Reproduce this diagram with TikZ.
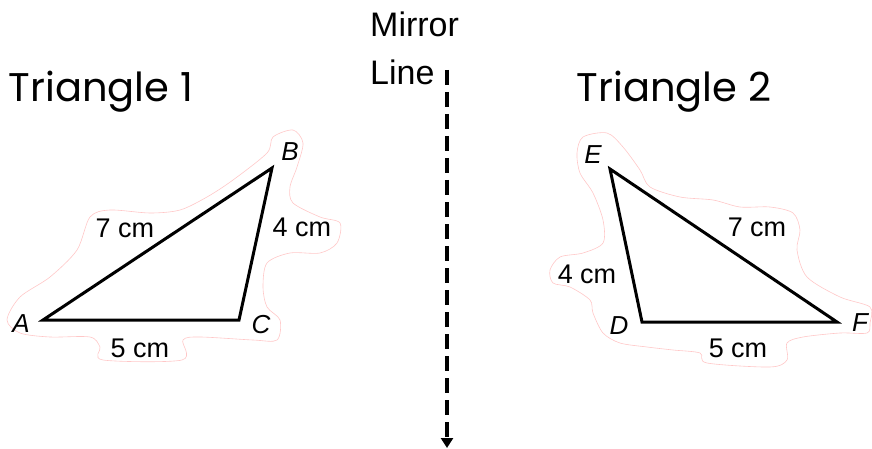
\documentclass[tikz,border=0pt]{standalone}
\usepackage{fontspec}
\setmainfont{Liberation Sans}
\newfontfamily\titlefont{Poppins}
\usetikzlibrary{arrows.meta}

\begin{document}
\begin{tikzpicture}[
  x=1pt, y=-1pt,
  title/.style={font=\titlefont\fontsize{40}{44}\selectfont, inner sep=0pt},
  vlab/.style={font=\fontsize{26}{30}\selectfont\itshape, inner sep=0pt},
  len/.style={font=\fontsize{27}{31}\selectfont, inner sep=0pt},
  tri/.style={line width=3pt, line join=miter},
  halo/.style={red!22, line width=0.6pt},
  mirror/.style={line width=4pt, dash pattern=on 15pt off 7pt,
                 -{Triangle[width=12pt, length=10pt]}},
]
\useasboundingbox (0,0) rectangle (872,449);

% ---------------------------------------------------------------
% Triangle 1
% ---------------------------------------------------------------
\node[title] (t1) at (101,92) {Triangle 1};

\draw[halo] plot[smooth cycle] coordinates {
  (7,320) (20,297) (50,277) (77,250) (90,217) (110,210) (150,213)
  (180,210) (207,197) (233,180) (267,153) (273,137) (293,130) (303,143)
  (297,167) (290,187) (293,203) (320,217) (340,223) (337,243) (320,253)
  (290,253) (267,263) (263,287) (267,307) (280,320) (277,340) (253,340)
  (200,337) (183,340) (182,360) (103,360) (100,347) (90,337) (50,337)
  (20,333)};

\coordinate (A) at (43,320);
\coordinate (B) at (272,168);
\coordinate (C) at (239,320);
\draw[tri] (A) -- (B) -- (C) -- cycle;

\node[vlab] (la) at (21,324) {A};
\node[vlab] (lb) at (290,152) {B};
\node[vlab] (lc) at (261,325) {C};
\node[len] (ab) at (125,228) {7 cm};
\node[len] (bc) at (302,227) {4 cm};
\node[len] (ac) at (140,348) {5 cm};

% ---------------------------------------------------------------
% Mirror line
% ---------------------------------------------------------------
\node[font=\fontsize{34}{48}\selectfont, align=left, inner sep=0pt, anchor=north west]
  (ml) at (370,12) {Mirror\\Line};
\coordinate (mtop) at (447,70);
\coordinate (mbot) at (447,448);
\draw[mirror] (mtop) -- (mbot);

% ---------------------------------------------------------------
% Triangle 2
% ---------------------------------------------------------------
\node[title] (t2) at (674,92) {Triangle 2};

\draw[halo] plot[smooth cycle] coordinates {
  (577,153) (583,137) (607,133) (623,147) (640,170) (650,187) (680,197)
  (713,200) (740,207) (770,207) (793,213) (800,230) (797,250) (807,277)
  (840,297) (870,307) (870,323) (867,333) (840,333) (803,337) (787,343)
  (787,360) (770,367) (707,363) (700,353) (673,350) (647,347) (620,343)
  (603,333) (593,313) (590,300) (570,287) (553,283) (550,270) (560,257)
  (583,253) (603,243) (603,220) (593,193) (580,173)};

\coordinate (E) at (610,169);
\coordinate (D) at (642,322);
\coordinate (F) at (837,322);
\draw[tri] (E) -- (D) -- (F) -- cycle;

\node[vlab] (le) at (593,155) {E};
\node[vlab] (ld) at (619,326) {D};
\node[vlab] (lf) at (860,323) {F};
\node[len] (ef) at (757,227) {7 cm};
\node[len] (de) at (587,274) {4 cm};
\node[len] (df) at (738,348) {5 cm};

\end{tikzpicture}
\end{document}
